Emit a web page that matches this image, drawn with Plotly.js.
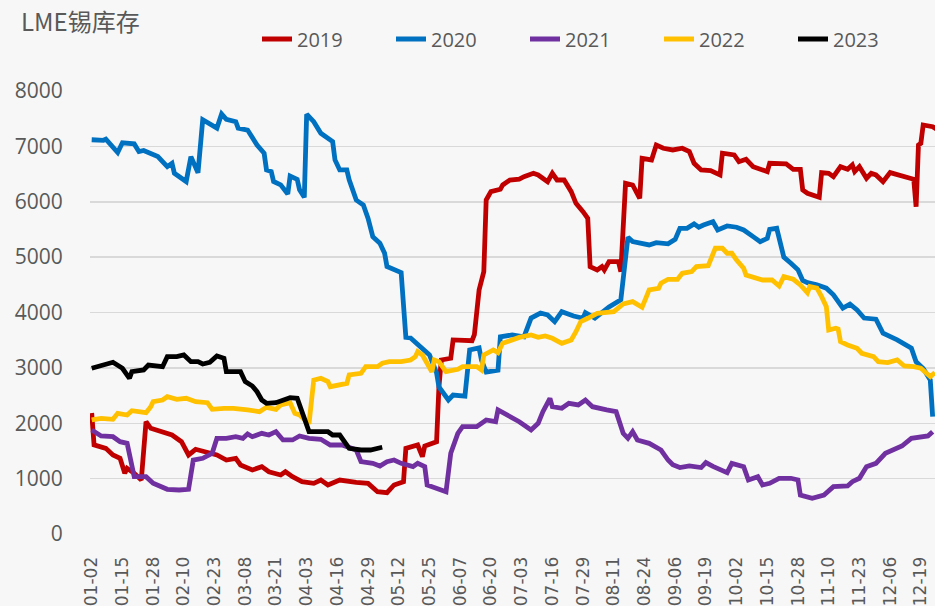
<!DOCTYPE html>
<html>
<head>
<meta charset="utf-8">
<script src="https://cdn.plot.ly/plotly-3.0.1.min.js"></script>
<style>
html,body{margin:0;padding:0;background:#f7f7f7;}
#chart{width:935px;height:606px;}
</style>
</head>
<body>
<div id="chart"></div>
<script>
// ---- categories: calendar days (MM-DD), axis starts at 01-02 ----
const monthLengths = [31,28,31,30,31,30,31,31,30,31,30,31];
const categories = [];
for (let m = 0; m < 12; m++) {
  for (let d = 1; d <= monthLengths[m]; d++) {
    const s = String(m + 1).padStart(2, '0') + '-' + String(d).padStart(2, '0');
    if (s !== '01-01') categories.push(s);
  }
}
const tickLabels = ["01-02","01-15","01-28","02-10","02-23","03-08","03-21","04-03","04-16","04-29",
  "05-12","05-25","06-07","06-20","07-03","07-16","07-29","08-11","08-24","09-06","09-19",
  "10-02","10-15","10-28","11-10","11-23","12-06","12-19"];
const yTicks = [0,1000,2000,3000,4000,5000,6000,7000,8000];

const seriesNames = ["2019","2020","2021","2022","2023"];

// ---- 2019 ----
const dates2019 = ["01-02","01-03","01-08","01-11","01-14","01-16","01-17","01-20","01-23","01-25","01-27","01-31",
  "02-05","02-09","02-12","02-15","02-19","02-24","02-28","03-04","03-06","03-11","03-15","03-18","03-23","03-25","03-28",
  "04-01","04-06","04-09","04-12","04-17","04-24","04-29","05-03","05-07","05-10","05-14","05-15","05-20","05-22","05-23",
  "05-28","05-29","05-30","06-03","06-04","06-12","06-13","06-15","06-17","06-18","06-20","06-24","06-25","06-28",
  "07-02","07-04","07-08","07-10","07-14","07-16","07-18","07-21","07-24","07-26","07-29","07-31",
  "08-01","08-04","08-06","08-07","08-09","08-13","08-14","08-16","08-19","08-22","08-23","08-27","08-29",
  "09-01","09-05","09-09","09-12","09-14","09-17","09-21","09-25","09-26",
  "10-01","10-03","10-06","10-09","10-15","10-16","10-23","10-26","10-29","10-30",
  "11-01","11-06","11-07","11-10","11-12","11-15","11-18","11-20","11-21","11-23","11-26","11-28","11-30",
  "12-03","12-06","12-10","12-14","12-16","12-17","12-18","12-19","12-20","12-24","12-26"];
const stock2019 = [2185,1610,1547,1427,1367,1096,1186,1096,975,2028,1909,1848,
  1788,1667,1427,1530,1487,1427,1336,1367,1246,1156,1216,1125,1066,1125,1035,
  945,915,975,885,975,934,915,764,746,885,945,1547,1607,1396,1589,
  1667,2660,3142,3173,3504,3491,3600,4407,4737,6032,6182,6225,6303,6393,
  6410,6453,6514,6484,6363,6514,6393,6393,6182,5972,5821,5702,
  4828,4768,4828,4768,4918,4918,4737,6334,6303,6062,6785,6755,7025,
  6966,6935,6966,6905,6695,6574,6561,6484,6876,
  6845,6724,6767,6634,6544,6695,6683,6586,6586,6213,
  6153,6081,6526,6514,6453,6634,6586,6664,6544,6634,6424,6514,6484,
  6363,6526,6484,6424,6406,5911,7025,7055,7387,7356,7300];

// ---- 2020 ----
const dates2020 = ["01-02","01-07","01-08","01-13","01-15","01-20","01-22","01-24","01-30",
  "02-03","02-05","02-06","02-11","02-13","02-16","02-18","02-24","02-26","02-28",
  "03-04","03-05","03-09","03-13","03-16","03-17","03-19","03-20","03-23","03-26","03-27","03-30","03-31",
  "04-02","04-03","04-06","04-09","04-14","04-15","04-17","04-20","04-21","04-24","04-27","04-29",
  "05-01","05-04","05-06","05-07","05-13","05-15","05-17","05-21","05-25","05-28","05-29",
  "06-02","06-04","06-09","06-10","06-11","06-15","06-16","06-18","06-23","06-24","06-29",
  "07-04","07-07","07-11","07-14","07-17","07-20","07-25","07-29","07-30",
  "08-03","08-09","08-14","08-17","08-19","08-26","08-29",
  "09-03","09-06","09-08","09-11","09-14","09-16","09-18","09-22","09-24","09-28",
  "10-02","10-05","10-09","10-12","10-15","10-16","10-19","10-20","10-22","10-25","10-28","10-30",
  "11-01","11-05","11-09","11-12","11-16","11-19","11-22","11-25","11-30",
  "12-03","12-09","12-15","12-17","12-20","12-23","12-24"];
const stock2020 = [7120,7110,7130,6890,7065,7045,6905,6925,6815,
  6635,6695,6515,6365,6815,6525,7480,7330,7585,7490,
  7445,7330,7295,7025,6875,6575,6545,6365,6305,6140,6465,6405,6215,
  6080,7580,7446,7237,7085,6755,6575,6575,6395,6030,5940,5700,
  5370,5250,5070,4830,4720,3550,3540,3377,3233,2908,2655,
  2420,2510,2490,2960,3325,3360,3140,2925,2960,3560,3595,
  3560,3900,3990,3955,3835,4015,3937,3896,3997,
  3900,4100,4230,5360,5280,5220,5260,
  5240,5320,5520,5520,5600,5540,5580,5640,5490,5563,
  5540,5490,5370,5280,5340,5500,5520,5310,5000,4890,4770,4580,
  4540,4500,4440,4320,4080,4150,4046,3900,3880,
  3625,3505,3355,3110,2990,2780,2120];

// ---- 2021 ----
const dates2021 = ["01-02","01-06","01-11","01-14","01-17","01-20","01-25","01-28",
  "02-03","02-08","02-12","02-14","02-18","02-22","02-24","02-28",
  "03-04","03-07","03-09","03-11","03-15","03-18","03-21","03-24","03-28","03-31",
  "04-04","04-09","04-13","04-18","04-24","04-26",
  "05-01","05-04","05-07","05-10","05-13","05-18","05-20","05-23","05-24","05-28",
  "06-01","06-03","06-06","06-08","06-14","06-18","06-22","06-23","06-28",
  "07-02","07-07","07-10","07-12","07-15","07-16","07-20","07-23","07-27","07-30",
  "08-02","08-08","08-12","08-15","08-17","08-19","08-21","08-26","08-31",
  "09-03","09-05","09-08","09-12","09-17","09-19","09-22","09-25","09-28","09-30",
  "10-05","10-07","10-11","10-13","10-16","10-20","10-25","10-28","10-29",
  "11-03","11-08","11-12","11-18","11-20","11-23","11-26","11-30",
  "12-04","12-07","12-11","12-15","12-22","12-24"];
const stock2021 = [1880,1770,1757,1667,1637,1035,1035,915,
  807,795,807,1336,1367,1457,1728,1728,
  1757,1728,1806,1757,1818,1788,1848,1698,1698,1770,
  1728,1710,1607,1607,1517,1306,
  1276,1228,1306,1336,1276,1216,1276,1216,885,825,
  764,1457,1818,1938,1938,2059,2028,2240,2118,
  2028,1878,1999,2209,2451,2299,2270,2360,2330,2420,
  2299,2240,2209,1818,1728,1848,1698,1637,1517,
  1336,1250,1200,1230,1200,1290,1220,1156,1107,1276,
  1216,975,1035,885,915,1006,1006,975,704,
  645,704,854,867,945,1006,1216,1276,
  1457,1517,1589,1728,1770,1848];

// ---- 2022 ----
const dates2022 = ["01-02","01-06","01-11","01-13","01-17","01-19","01-25","01-27","01-28",
  "02-01","02-03","02-07","02-11","02-15","02-20","02-22","02-27",
  "03-03","03-09","03-14","03-17","03-21","03-23","03-27","03-29","03-31",
  "04-04","04-06","04-09","04-12","04-13","04-20","04-21","04-26","04-28",
  "05-03","05-05","05-08","05-13","05-17","05-19","05-20","05-22","05-24","05-26","05-27","05-29",
  "06-01","06-06","06-08","06-14","06-16","06-17","06-21","06-23","06-25","06-29",
  "07-02","07-07","07-10","07-13","07-16","07-20","07-24","07-26","07-28","07-31",
  "08-04","08-07","08-11","08-15","08-19","08-23","08-26","08-30","08-31",
  "09-03","09-07","09-09","09-13","09-15","09-20","09-23","09-26","09-28","09-30",
  "10-02","10-05","10-06","10-11","10-13","10-17","10-20","10-22","10-26","10-29",
  "11-01","11-02","11-05","11-07","11-09","11-10","11-13","11-14","11-15","11-18","11-22","11-24","11-29",
  "12-01","12-05","12-09","12-12","12-16","12-19","12-23","12-25"];
const stock2022 = [2059,2089,2071,2179,2149,2227,2191,2299,2390,
  2420,2480,2432,2451,2390,2371,2251,2270,
  2270,2240,2209,2288,2251,2330,2371,2179,2150,
  1990,2780,2812,2751,2660,2721,2872,2902,3022,
  3022,3083,3112,3112,3142,3202,3293,3233,3083,2931,3142,3112,
  2931,2974,3022,3022,2962,3233,3323,3274,3444,3504,
  3550,3594,3552,3576,3534,3444,3504,3654,3834,3896,
  3986,3997,4015,4154,4196,4094,4407,4437,4528,
  4600,4600,4708,4738,4828,4845,5160,5160,5070,5070,
  4949,4798,4678,4618,4587,4587,4479,4647,4600,4497,
  4358,4467,4440,4286,4105,3684,3715,3700,3473,3413,3354,3264,3202,
  3112,3094,3142,3034,3022,2993,2841,2913];

// ---- 2023 ----
const dates2023 = ["01-02","01-06","01-11","01-15","01-18","01-19","01-24","01-26","01-28",
  "02-01","02-03","02-07","02-10","02-13","02-16","02-18","02-21","02-24","02-27","02-28",
  "03-06","03-08","03-11","03-13","03-15","03-17","03-21","03-25","03-27","03-30",
  "04-01","04-03","04-04","04-12","04-14","04-17","04-21","04-26","04-30","05-05"];
const stock2023 = [2993,3034,3101,2993,2812,2931,2962,3052,3040,
  3022,3202,3202,3233,3112,3112,3070,3100,3215,3173,2931,
  2931,2751,2673,2570,2420,2360,2371,2420,2462,2451,
  2209,1909,1848,1848,1788,1788,1547,1517,1517,1566];

const seriesDates = [dates2019, dates2020, dates2021, dates2022, dates2023];
const seriesValues = [stock2019, stock2020, stock2021, stock2022, stock2023];
const seriesColors = ["#C00000","#0070C0","#7030A0","#FFC000","#000000"];

const traces = seriesNames.map((name, i) => ({
  type: 'scatter',
  mode: 'lines',
  name: name,
  x: seriesDates[i],
  y: seriesValues[i],
  line: {color: seriesColors[i], width: 4.8},
  hoverinfo: 'x+y+name'
}));

const layout = {
  width: 935,
  height: 606,
  paper_bgcolor: '#f7f7f7',
  plot_bgcolor: '#f7f7f7',
  margin: {l: 90, r: 0, t: 91, b: 72, pad: 0},
  title: {
    text: 'LME锡库存',
    font: {family: 'Noto Sans CJK SC, sans-serif', size: 24, color: '#595959'},
    xref: 'container', yref: 'container',
    x: 21 / 935, xanchor: 'left',
    y: 1 - 23 / 606, yanchor: 'middle'
  },
  showlegend: true,
  legend: {
    orientation: 'h',
    xref: 'container', yref: 'container',
    x: 257 / 935, xanchor: 'left',
    y: 1 - 39 / 606, yanchor: 'middle',
    bgcolor: 'rgba(0,0,0,0)',
    font: {family: 'Open Sans, sans-serif', size: 20, color: '#595959'},
    entrywidth: 89,
    traceorder: 'normal'
  },
  xaxis: {
    type: 'category',
    categoryorder: 'array',
    categoryarray: categories,
    range: [-0.72, 357.0],
    tickmode: 'array',
    tickvals: tickLabels,
    ticktext: tickLabels,
    tickangle: -90,
    ticks: 'outside',
    ticklen: 15,
    tickcolor: 'rgba(0,0,0,0)',
    tickfont: {family: 'DejaVu Sans, sans-serif', size: 17, color: '#595959'},
    showgrid: false,
    showline: false,
    zeroline: false,
    fixedrange: true
  },
  yaxis: {
    range: [0, 8000],
    tickmode: 'array',
    tickvals: yTicks,
    ticktext: yTicks.map(String),
    ticks: 'outside',
    ticklen: 22,
    tickcolor: 'rgba(0,0,0,0)',
    tickfont: {family: 'Open Sans, sans-serif', size: 21, color: '#595959'},
    showgrid: true,
    gridcolor: '#d9d9d9',
    gridwidth: 1.5,
    zeroline: false,
    showline: false,
    fixedrange: true
  }
};

Plotly.newPlot('chart', traces, layout, {displayModeBar: false, staticPlot: true});
</script>
</body>
</html>
